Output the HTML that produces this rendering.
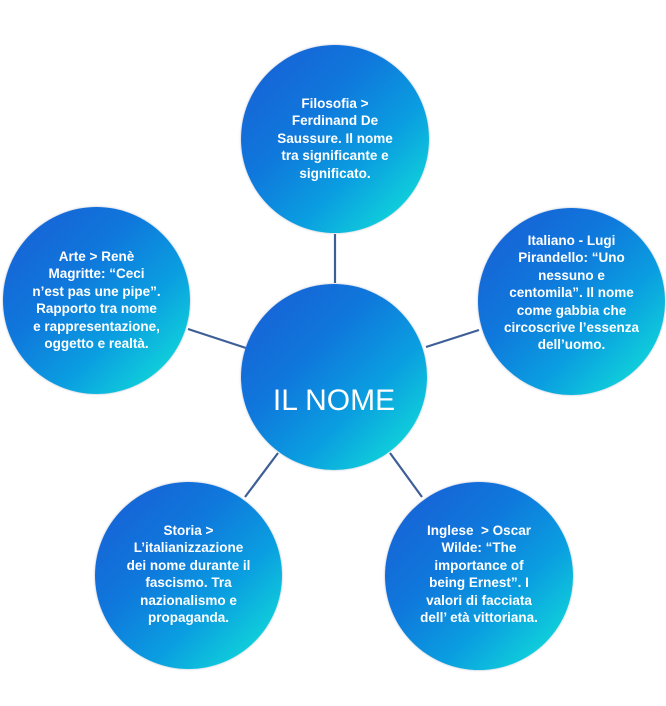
<!DOCTYPE html>
<html><head><meta charset="utf-8"><style>
html,body{margin:0;padding:0;background:#fff;width:666px;height:706px;overflow:hidden;position:relative}
.c{position:absolute;border-radius:50%;background:linear-gradient(135deg,#1a5cd4 0%,#0f78dc 38%,#0a9ee0 64%,#10d2da 88%,#30e4d8 100%);box-shadow:0 0 2px rgba(120,140,170,.6)}
.t{position:absolute;left:-10px;right:-10px;text-align:center;color:#fff;font-family:"Liberation Sans",sans-serif;font-weight:bold;font-size:13.5px;line-height:17.4px;letter-spacing:0;white-space:nowrap}
svg{position:absolute;left:0;top:0}
</style></head><body>
<svg width="666" height="706"><g stroke="#3d5f96" stroke-width="2.2" fill="none">
<line x1="335" y1="234" x2="335" y2="283"/>
<line x1="188" y1="329" x2="246" y2="348"/>
<line x1="479" y1="330" x2="426" y2="347"/>
<line x1="278" y1="453" x2="245" y2="497"/>
<line x1="390" y1="453" x2="422" y2="497"/>
</g></svg>
<div class="c" style="left:241px;top:45px;width:188px;height:188px"><div class="t" style="top:50px">Filosofia &gt;<br>Ferdinand De<br>Saussure. Il nome<br>tra significante e<br>significato.</div></div>
<div class="c" style="left:3px;top:207px;width:187px;height:187px"><div class="t" style="top:41px">Arte &gt; Renè<br>Magritte: “Ceci<br>n’est pas une pipe”.<br>Rapporto tra nome<br>e rappresentazione,<br>oggetto e realtà.</div></div>
<div class="c" style="left:478px;top:208px;width:187px;height:187px"><div class="t" style="top:24px">Italiano - Lugi<br>Pirandello: “Uno<br>nessuno e<br>centomila”. Il nome<br>come gabbia che<br>circoscrive l’essenza<br>dell’uomo.</div></div>
<div class="c" style="left:241px;top:284px;width:186px;height:186px"><div class="t" style="top:99px;font-weight:normal;font-size:30px;line-height:36px;letter-spacing:0">IL NOME</div></div>
<div class="c" style="left:95px;top:482px;width:187px;height:187px"><div class="t" style="top:40px">Storia &gt;<br>L’italianizzazione<br>dei nome durante il<br>fascismo. Tra<br>nazionalismo e<br>propaganda.</div></div>
<div class="c" style="left:385px;top:482px;width:188px;height:188px"><div class="t" style="top:40px">Inglese &nbsp;&gt; Oscar<br>Wilde: “The<br>importance of<br>being Ernest”. I<br>valori di facciata<br>dell’ età vittoriana.</div></div>
</body></html>
